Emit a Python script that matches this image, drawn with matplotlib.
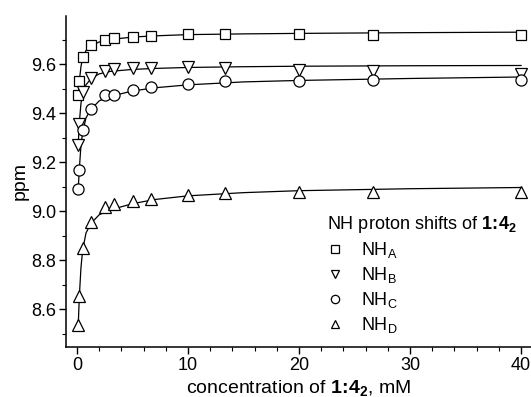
import matplotlib
matplotlib.use("Agg")
import matplotlib.pyplot as plt
from matplotlib.ticker import MultipleLocator

plt.rcParams["font.family"] = ["Liberation Sans", "DejaVu Sans"]
plt.rcParams["mathtext.fontset"] = "custom"
plt.rcParams["mathtext.rm"] = "Liberation Sans"
plt.rcParams["mathtext.bf"] = "Liberation Sans:bold"
plt.rcParams["mathtext.it"] = "Liberation Sans:italic"

# measured points (concentration in mM)
conc = [0.1, 0.2, 0.5, 1.25, 2.5, 3.33, 5, 6.67, 10, 13.33, 20, 26.67, 40]
nh_a = [9.472, 9.532, 9.630, 9.679, 9.699, 9.705, 9.711, 9.715, 9.722, 9.722, 9.722, 9.720, 9.718]
nh_b = [9.268, 9.356, 9.486, 9.541, 9.570, 9.580, 9.584, 9.584, 9.587, 9.584, 9.577, 9.570, 9.560]
nh_c = [9.091, 9.169, 9.332, 9.416, 9.472, 9.472, 9.494, 9.505, 9.520, 9.529, 9.532, 9.534, 9.536]
nh_d = [8.536, 8.654, 8.849, 8.955, 9.016, 9.027, 9.041, 9.049, 9.067, 9.073, 9.078, 9.078, 9.078]

# fitted curves
fit_x = [0.1, 0.2, 0.35, 0.5, 0.8, 1.25, 2, 3, 5, 7, 10, 15, 20, 30, 40]
fit_a = [9.47, 9.53, 9.59, 9.625, 9.655, 9.675, 9.69, 9.70, 9.71, 9.715, 9.72, 9.723, 9.725, 9.728, 9.73]
fit_b = [9.27, 9.36, 9.44, 9.48, 9.515, 9.54, 9.56, 9.57, 9.578, 9.582, 9.586, 9.589, 9.591, 9.593, 9.594]
fit_c = [9.09, 9.17, 9.27, 9.32, 9.38, 9.415, 9.45, 9.468, 9.49, 9.503, 9.515, 9.527, 9.533, 9.541, 9.547]
fit_d = [8.53, 8.65, 8.77, 8.84, 8.91, 8.95, 8.985, 9.005, 9.03, 9.047, 9.062, 9.075, 9.083, 9.091, 9.096]

labels = [r"NH$_\mathregular{A}$", r"NH$_\mathregular{B}$",
          r"NH$_\mathregular{C}$", r"NH$_\mathregular{D}$"]
markers = ["s", "v", "o", "^"]
sizes = [7, 8.5, 8, 8.5]

bold_name = r"$\mathbf{1}\!\mathbf{:}\!\mathbf{4_2}$"

fig = plt.figure(figsize=(5.31, 3.97), dpi=100)
ax = fig.add_axes([66 / 531, 50 / 397, 465 / 531, 331 / 397])

handles = []
for ys, fy, m, s, lab in zip([nh_a, nh_b, nh_c, nh_d], [fit_a, fit_b, fit_c, fit_d],
                             markers, sizes, labels):
    ax.plot(fit_x, fy, color="black", lw=0.9, zorder=2)
    h, = ax.plot(conc, ys, ls="none", marker=m, ms=s, mfc="white", mec="black",
                 mew=0.9, zorder=3, label=lab)
    handles.append(h)

ax.set_xlim(-1.0, 40.9)
ax.set_ylim(8.445, 9.796)
ax.xaxis.set_major_locator(MultipleLocator(10))
ax.xaxis.set_minor_locator(MultipleLocator(2))
ax.yaxis.set_major_locator(MultipleLocator(0.2))
ax.yaxis.set_minor_locator(MultipleLocator(0.1))
ax.yaxis.set_major_formatter(matplotlib.ticker.FormatStrFormatter("%.1f"))
ax.tick_params(which="major", direction="out", length=5, width=1, labelsize=13, pad=2)
ax.tick_params(which="minor", direction="out", length=3, width=0.8)

ax.spines["top"].set_visible(False)
ax.spines["right"].set_visible(False)
for sp in ["left", "bottom"]:
    ax.spines[sp].set_linewidth(1.1)

ax.set_xlabel("concentration of " + bold_name + ", mM", fontsize=14, labelpad=3)
ax.set_ylabel("ppm", fontsize=14, labelpad=2)

leg = ax.legend(handles=handles, title="NH proton shifts of " + bold_name,
                loc="upper left", bbox_to_anchor=(327 / 531, 1 - 214 / 397),
                bbox_transform=fig.transFigure, frameon=False, fontsize=13,
                title_fontsize=13, alignment="left", markerscale=0.75,
                handlelength=0.9, handletextpad=1.0, labelspacing=0.28,
                borderpad=0, borderaxespad=0)

fig.savefig("out.png", dpi=100)
